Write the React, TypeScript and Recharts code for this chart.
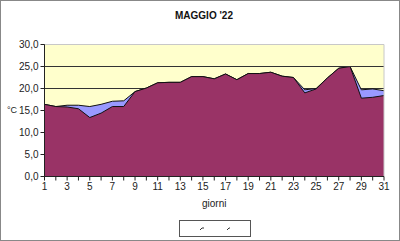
import { AreaChart, Area, XAxis, YAxis, CartesianGrid, ReferenceLine } from "recharts";

const days = Array.from({ length: 31 }, (_, i) => i + 1);

// temperatura massima (serie retro, azzurra)
const tMax = [
  16.4, 15.9, 16.2, 16.2, 15.9, 16.4, 17.1, 17.2, 19.3, 20.1, 21.3, 21.4, 21.4, 22.7, 22.7, 22.2,
  23.3, 22.0, 23.4, 23.4, 23.7, 22.8, 22.5, 19.7, 20.0, 22.4, 24.6, 25.0, 19.7, 19.9, 19.5,
];
// temperatura (serie davanti, bordeaux)
const tMin = [
  16.4, 15.9, 15.8, 15.4, 13.4, 14.4, 15.9, 15.9, 19.3, 20.1, 21.3, 21.4, 21.4, 22.7, 22.7, 22.2,
  23.3, 22.0, 23.4, 23.4, 23.7, 22.8, 22.5, 19.0, 19.9, 22.4, 24.6, 25.0, 17.8, 18.0, 18.4,
];
const yTicks = [0, 5, 10, 15, 20, 25, 30];

const data = days.map((d, i) => ({ day: d, a: tMax[i], b: tMin[i] }));

const FONT = "Arial, 'Liberation Sans', sans-serif";

function LegendBox() {
  return (
    <div
      style={{
        position: "absolute",
        left: 178,
        top: 219,
        width: 72,
        height: 17,
        border: "1px solid #555",
        boxSizing: "border-box",
        background: "#fff",
      }}
    >
      <svg width={70} height={15} style={{ position: "absolute", left: 0, top: 0 }}>
        <path d="M20 9 L22 7 L24 7" stroke="#333" fill="none" strokeWidth={1} />
        <path d="M47 9 L49 7 L50 7" stroke="#333" fill="none" strokeWidth={1} />
      </svg>
    </div>
  );
}

export default function App() {
  return (
    <div
      style={{
        position: "absolute",
        left: 0,
        top: 0,
        width: 400,
        height: 241,
        border: "1px solid #888",
        boxSizing: "border-box",
        background: "#fff",
        fontFamily: FONT,
      }}
    >
      <div
        style={{
          position: "absolute",
          left: 0,
          width: 406,
          top: 9,
          textAlign: "center",
          fontWeight: "bold",
          fontSize: 10,
          color: "#111",
        }}
      >
        MAGGIO '22
      </div>
      <div style={{ position: "absolute", left: -1, top: -1 }}>
        <AreaChart width={400} height={241} data={data} margin={{ top: 44.5, right: 16, bottom: 34.5, left: 0.5 }}>
          <CartesianGrid horizontal vertical={false} fill="#FFFFCC" stroke="#333" />
          <XAxis
            dataKey="day"
            type="number"
            domain={[1, 31]}
            ticks={days}
            interval={0}
            tickFormatter={(v: number) => (v % 2 === 1 ? String(v) : "")}
            tick={{ fontSize: 10, fill: "#222", fontFamily: FONT }}
            tickSize={4}
            stroke="#222"
            height={30}
            label={{ value: "giorni", position: "insideBottom", offset: 0, fontSize: 10, fill: "#222" }}
          />
          <YAxis
            domain={[0, 30]}
            ticks={yTicks}
            width={44}
            tickFormatter={(v: number) => v.toFixed(1).replace(".", ",")}
            tick={{ fontSize: 10, fill: "#222", fontFamily: FONT }}
            tickSize={4}
            stroke="#222"
          />
          <Area
            dataKey="a"
            type="linear"
            fill="#9999FF"
            fillOpacity={1}
            stroke="#111"
            strokeWidth={1}
            isAnimationActive={false}
          />
          <Area
            dataKey="b"
            type="linear"
            fill="#993366"
            fillOpacity={1}
            stroke="#111"
            strokeWidth={1}
            isAnimationActive={false}
          />
          <ReferenceLine y={25} stroke="#333" />
          <ReferenceLine y={30} stroke="#c8c8c8" />
          <ReferenceLine x={31} stroke="#c8c8c8" />
        </AreaChart>
      </div>
      <div style={{ position: "absolute", left: 6, top: 104, fontSize: 9, color: "#222" }}>°C</div>
      <LegendBox />
    </div>
  );
}
